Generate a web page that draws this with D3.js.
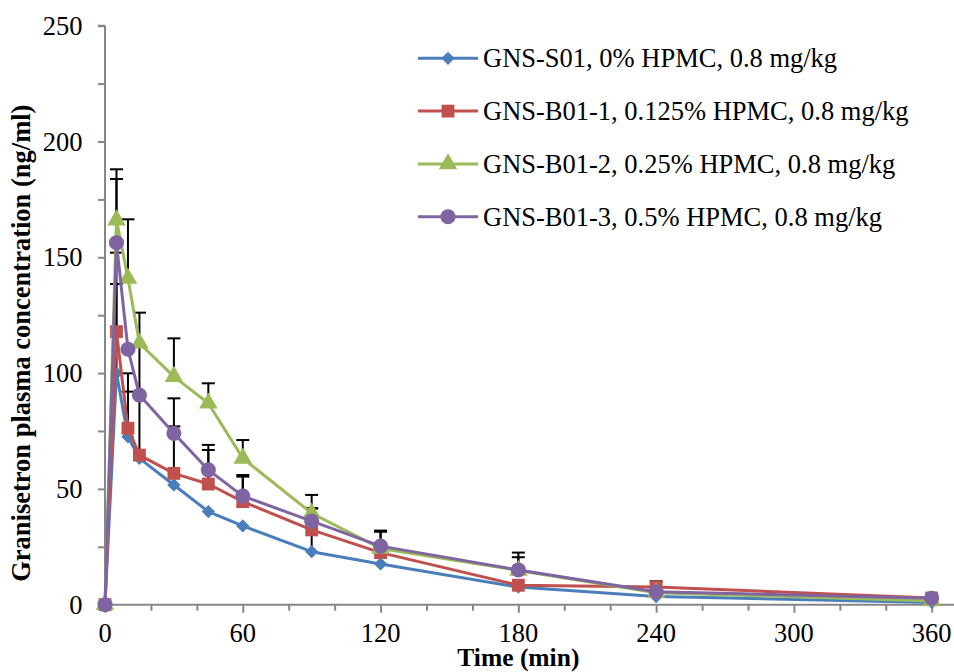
<!DOCTYPE html>
<html>
<head>
<meta charset="utf-8">
<script src="https://cdn.jsdelivr.net/npm/d3@7"></script>
<style>
  html, body { margin: 0; padding: 0; background: #fff; }
  svg { display: block; }
  text { font-family: "Liberation Serif", "Times New Roman", serif; fill: #000; }
</style>
</head>
<body>
<svg id="chart" width="954" height="672"></svg>
<script>
// Sampling times (min)
const times = [0, 5, 10, 15, 30, 45, 60, 90, 120, 180, 240, 360];

// Mean plasma concentrations (ng/ml)
const gnsS01  = [0, 100.0, 72.5, 63.2, 51.7, 40.2, 34.0, 22.9, 17.6, 7.6, 3.5, 1.0];
const gnsB011 = [0, 117.9, 76.2, 64.6, 56.7, 52.1, 44.5, 32.3, 22.5, 8.4, 7.6, 2.9];
const gnsB012 = [0, 166.1, 140.9, 112.9, 98.5, 87.0, 63.2, 39.5, 24.3, 14.8, 5.2, 1.6];
const gnsB013 = [0, 156.3, 110.3, 90.5, 74.0, 58.2, 46.9, 36.1, 25.3, 15.0, 5.6, 2.8];

// Upper standard deviations (null = no bar)
const sdS01  = [null, 38.5, 19.5, null, null, null, null, 18.7, null, null, null, null];
const sdB011 = [null, 34.1, 23.7, 61.5, 20.3, 14.7, 10.8, null, null, null, 2.5, null];
const sdB012 = [null, 21.9, 25.5, null, 16.5, 8.6, 7.9, 7.9, 7.7, 7.7, null, null];
const sdB013 = [null, 27.5, null, null, 15.1, 10.8, 9.1, 5.5, 6.2, 5.5, null, null];

const seriesNames = [
  "GNS-S01, 0% HPMC, 0.8 mg/kg",
  "GNS-B01-1, 0.125% HPMC, 0.8 mg/kg",
  "GNS-B01-2, 0.25% HPMC, 0.8 mg/kg",
  "GNS-B01-3, 0.5% HPMC, 0.8 mg/kg"
];
const seriesColors = ["#4a7ebb", "#c0504d", "#9bbb59", "#8064a2"];

// Diamond drawn as a square turned 45 degrees
const symbolRhomb = {
  draw(context, size) {
    const r = Math.sqrt(size / 2);
    context.moveTo(0, -r);
    context.lineTo(r, 0);
    context.lineTo(0, r);
    context.lineTo(-r, 0);
    context.closePath();
  }
};
const seriesSymbols = [symbolRhomb, d3.symbolSquare, d3.symbolTriangle, d3.symbolCircle];
const symbolSizes = [88, 165, 150, 180];

const xTicks = [0, 60, 120, 180, 240, 300, 360];
const yTicks = [0, 50, 100, 150, 200, 250];

const series = [gnsS01, gnsB011, gnsB012, gnsB013].map((vals, i) => ({
  name: seriesNames[i],
  color: seriesColors[i],
  symbol: seriesSymbols[i],
  size: symbolSizes[i],
  sd: [sdS01, sdB011, sdB012, sdB013][i],
  points: times.map((t, j) => ({ t, v: vals[j] }))
}));

const svg = d3.select("#chart");
const x = d3.scaleLinear().domain([0, 360]).range([105, 931.7]);
const y = d3.scaleLinear().domain([0, 250]).range([604.7, 25.7]);
const axisColor = "#868686";

// Y axis: ticks every 25, labels every 50
const yAxis = svg.append("g").attr("transform", `translate(${x(0)},0)`)
  .call(d3.axisLeft(y).tickValues(d3.range(0, 251, 25)).tickSize(7).tickFormat(""));
yAxis.select(".domain").attr("d", `M0,${y(250)}H-7M0,${y(250)}V${y(0)}`);
yAxis.selectAll("line").attr("stroke", axisColor).attr("stroke-width", 2);
yAxis.select(".domain").attr("stroke", axisColor).attr("stroke-width", 2);
svg.append("g").selectAll("text").data(yTicks).join("text")
  .attr("x", 82.5).attr("y", d => y(d) + 9)
  .attr("text-anchor", "end").attr("font-size", 26.5)
  .text(d => d);

// X axis: ticks every 20, labels every 60
const xAxis = svg.append("g").attr("transform", `translate(0,${y(0)})`)
  .call(d3.axisBottom(x).tickValues(d3.range(0, 361, 20)).tickSize(6).tickFormat(""));
xAxis.select(".domain").attr("d", `M${x(0)},0H954`);
xAxis.selectAll("line").attr("stroke", axisColor).attr("stroke-width", 2)
  .attr("y2", d => d % 60 === 0 ? 8 : 6);
xAxis.select(".domain").attr("stroke", axisColor).attr("stroke-width", 2);
svg.append("g").selectAll("text").data(xTicks).join("text")
  .attr("x", d => x(d)).attr("y", 642)
  .attr("text-anchor", "middle").attr("font-size", 26.5)
  .text(d => d);

// Axis titles
svg.append("text")
  .attr("transform", `translate(30,${(y(0) + y(250)) / 2 + 28}) rotate(-90)`)
  .attr("text-anchor", "middle").attr("font-size", 26.5).attr("font-weight", "bold")
  .text("Granisetron plasma concentration (ng/ml)");
svg.append("text")
  .attr("x", (x(0) + x(360)) / 2).attr("y", 666)
  .attr("text-anchor", "middle").attr("font-size", 25.5).attr("font-weight", "bold")
  .text("Time (min)");

// Error bars (upper only)
const errG = svg.append("g");
series.forEach(s => {
  s.points.forEach((p, j) => {
    const sd = s.sd[j];
    if (sd == null) return;
    const cx = x(p.t), y0 = y(p.v), y1 = y(p.v + sd);
    errG.append("line").attr("x1", cx).attr("x2", cx).attr("y1", y0).attr("y2", y1)
      .attr("stroke", "#000").attr("stroke-width", 2);
    errG.append("line").attr("x1", cx - 6.5).attr("x2", cx + 6.5).attr("y1", y1).attr("y2", y1)
      .attr("stroke", "#000").attr("stroke-width", 2);
  });
});

// Series lines and markers
const line = d3.line().x(d => x(d.t)).y(d => y(d.v));
series.forEach(s => {
  const g = svg.append("g");
  g.append("path").datum(s.points).attr("d", line)
    .attr("fill", "none").attr("stroke", s.color).attr("stroke-width", 3)
    .attr("stroke-linejoin", "round");
  g.selectAll("path.m").data(s.points).join("path").attr("class", "m")
    .attr("transform", d => `translate(${x(d.t)},${y(d.v)})`)
    .attr("d", d3.symbol().type(s.symbol).size(s.size))
    .attr("fill", s.color);
});

// Legend
const legend = svg.append("g");
series.forEach((s, i) => {
  const cy = 58.3 + i * 52.8;
  legend.append("line").attr("x1", 418).attr("x2", 478).attr("y1", cy).attr("y2", cy)
    .attr("stroke", s.color).attr("stroke-width", 3);
  legend.append("path").attr("transform", `translate(448,${cy})`)
    .attr("d", d3.symbol().type(s.symbol).size(s.size)).attr("fill", s.color);
  legend.append("text").attr("x", 483).attr("y", cy + 9)
    .attr("font-size", 26.5).text(s.name);
});
</script>
</body>
</html>
